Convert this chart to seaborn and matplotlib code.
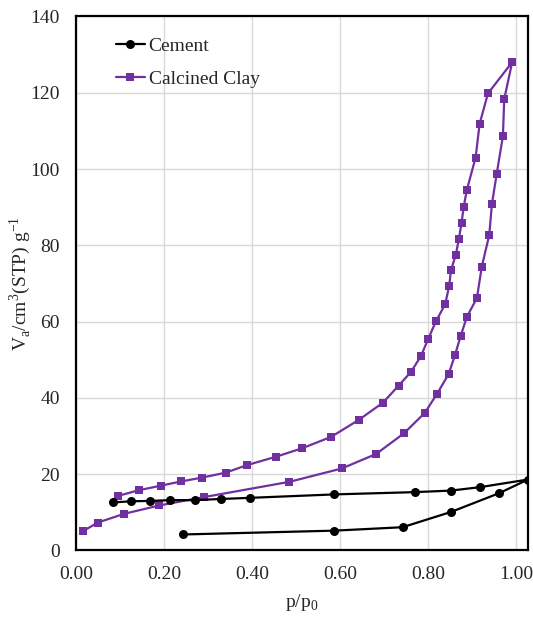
import matplotlib
matplotlib.use("Agg")
import matplotlib.pyplot as plt
import seaborn as sns
import pandas as pd

# Cement isotherm (adsorption then desorption, one continuous series)
cement_p = [0.244, 0.587, 0.742, 0.852, 0.961, 1.027,
            0.918, 0.852, 0.770, 0.587, 0.395, 0.329, 0.270, 0.214, 0.169, 0.126, 0.084]
cement_v = [4.2, 5.2, 6.1, 10.1, 15.0, 18.6,
            16.6, 15.7, 15.3, 14.7, 13.8, 13.5, 13.2, 13.2, 13.0, 12.9, 12.6]

# Calcined clay isotherm
clay_p = [0.015, 0.049, 0.109, 0.189, 0.291, 0.485, 0.604, 0.682, 0.745, 0.792,
          0.820, 0.847, 0.861, 0.874, 0.888, 0.911, 0.922, 0.939, 0.945, 0.956,
          0.970, 0.973, 0.991,
          0.936, 0.917, 0.908, 0.888, 0.881, 0.876, 0.870, 0.863, 0.852, 0.848,
          0.839, 0.818, 0.800, 0.784, 0.761, 0.733, 0.697, 0.642, 0.580, 0.514,
          0.455, 0.389, 0.340, 0.286, 0.239, 0.193, 0.143, 0.095]
clay_v = [5.0, 7.3, 9.6, 11.8, 14.0, 18.0, 21.5, 25.3, 30.7, 36.0,
          41.0, 46.3, 51.2, 56.2, 61.2, 66.2, 74.4, 82.7, 90.8, 98.8,
          108.6, 118.3, 128.0,
          119.8, 111.8, 103.0, 94.5, 90.1, 85.9, 81.7, 77.5, 73.5, 69.4,
          64.6, 60.1, 55.4, 51.0, 46.8, 43.2, 38.7, 34.2, 29.8, 26.8,
          24.6, 22.4, 20.4, 19.1, 18.1, 17.0, 15.8, 14.3]

x_ticks = [0.0, 0.2, 0.4, 0.6, 0.8, 1.0]
y_ticks = [0, 20, 40, 60, 80, 100, 120, 140]

sns.set_style("white")
plt.rcParams["font.family"] = ["Liberation Serif", "DejaVu Serif"]
plt.rcParams["mathtext.fontset"] = "custom"
plt.rcParams["mathtext.rm"] = "Liberation Serif"

cement = pd.DataFrame({"p": cement_p, "v": cement_v})
clay = pd.DataFrame({"p": clay_p, "v": clay_v})

fig = plt.figure(figsize=(5.33, 6.17), dpi=100)
ax = fig.add_axes([0.1426, 0.1078, 0.848, 0.8656])

sns.lineplot(data=cement, x="p", y="v", sort=False, estimator=None,
             color="black", marker="o", markersize=6.5, markeredgewidth=0,
             linewidth=1.6, label="Cement", ax=ax, zorder=3)
sns.lineplot(data=clay, x="p", y="v", sort=False, estimator=None,
             color="#7030A0", marker="s", markersize=6, markeredgewidth=0,
             linewidth=1.6, label="Calcined Clay", ax=ax, zorder=2)

ax.set_xlim(0, 1.027)
ax.set_ylim(0, 140)
ax.set_xticks(x_ticks)
ax.set_xticklabels([f"{t:.2f}" for t in x_ticks])
ax.set_yticks(y_ticks)
ax.grid(True, color="#d9d9d9", linewidth=1)
ax.set_axisbelow(True)
for s in ax.spines.values():
    s.set_color("black")
    s.set_linewidth(1.6)
ax.tick_params(length=0, labelsize=14)
ax.tick_params(axis="x", pad=11)
ax.tick_params(axis="y", pad=11.5)

ax.set_xlabel("p/p$_\\mathregular{0}$", fontsize=14, labelpad=7)
ax.set_ylabel("V$_\\mathregular{a}$/cm$^\\mathregular{3}$(STP) g$^\\mathregular{-1}$",
              fontsize=14, labelpad=-2)

ax.legend(loc="upper left", bbox_to_anchor=(0.049, 0.994), frameon=False,
          fontsize=14, handlelength=1.5, handletextpad=0.2, labelspacing=0.8)

fig.savefig("out.png", dpi=100)
